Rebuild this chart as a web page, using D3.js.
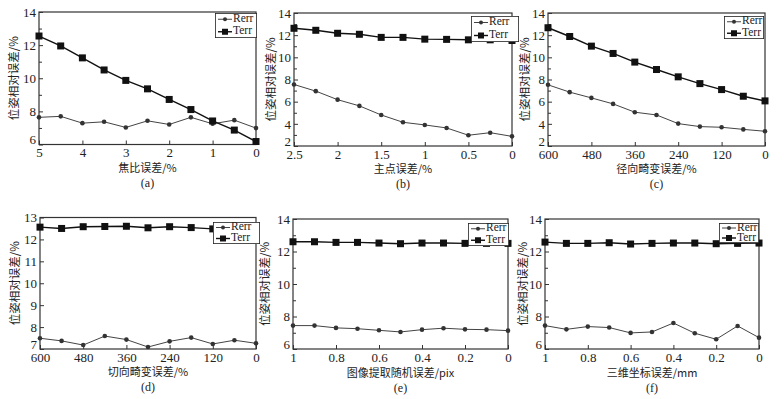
<!doctype html>
<html>
<head>
<meta charset="utf-8">
<script src="https://d3js.org/d3.v7.min.js"></script>
<style>
  body { margin: 0; background: #fff; }
  svg { display: block; }
  text { font-family: "Liberation Serif", "Times New Roman", serif; fill: #222; }
  .cjk { font-family: "Noto Sans CJK SC", sans-serif; }
</style>
</head>
<body>
<svg id="chart" width="784" height="399"></svg>
<script>
// ---- data ----
var xA = [5, 4.5, 4, 3.5, 3, 2.5, 2, 1.5, 1, 0.5, 0];
var rerrA = [7.64, 7.7, 7.29, 7.37, 7.03, 7.43, 7.21, 7.64, 7.25, 7.47, 6.99];
var terrA = [12.55, 11.95, 11.23, 10.5, 9.87, 9.36, 8.72, 8.11, 7.42, 6.87, 6.18];

var xB = [2.5, 2.25, 2, 1.75, 1.5, 1.25, 1, 0.75, 0.5, 0.25, 0];
var rerrB = [7.55, 6.95, 6.18, 5.62, 4.8, 4.14, 3.9, 3.63, 2.97, 3.2, 2.87];
var terrB = [12.62, 12.44, 12.17, 12.08, 11.8, 11.8, 11.64, 11.62, 11.58, 11.58, 11.52];

var xC = [600, 540, 480, 420, 360, 300, 240, 180, 120, 60, 0];
var rerrC = [7.52, 6.86, 6.34, 5.8, 5.05, 4.8, 4.02, 3.75, 3.69, 3.5, 3.33];
var terrC = [12.67, 11.88, 11.01, 10.35, 9.57, 8.9, 8.24, 7.63, 7.09, 6.49, 6.07];

var xD = [600, 540, 480, 420, 360, 300, 240, 180, 120, 60, 0];
var rerrD = [7.49, 7.37, 7.18, 7.59, 7.43, 7.09, 7.35, 7.52, 7.23, 7.4, 7.26];
var terrD = [12.56, 12.5, 12.58, 12.59, 12.6, 12.53, 12.58, 12.54, 12.48, 12.5, 12.54];

var xE = [1, 0.9, 0.8, 0.7, 0.6, 0.5, 0.4, 0.3, 0.2, 0.1, 0];
var rerrE = [7.44, 7.44, 7.3, 7.25, 7.15, 7.05, 7.19, 7.28, 7.21, 7.19, 7.13];
var terrE = [12.6, 12.6, 12.56, 12.56, 12.52, 12.48, 12.52, 12.52, 12.5, 12.5, 12.5];

var xF = [1, 0.9, 0.8, 0.7, 0.6, 0.5, 0.4, 0.3, 0.2, 0.1, 0];
var rerrF = [7.44, 7.21, 7.38, 7.32, 6.99, 7.05, 7.6, 6.97, 6.6, 7.42, 6.7];
var terrF = [12.58, 12.5, 12.5, 12.54, 12.46, 12.5, 12.52, 12.52, 12.48, 12.5, 12.52];

var xTicksA = [5, 4, 3, 2, 1, 0];
var xTicksB = [2.5, 2, 1.5, 1, 0.5, 0];
var xTicksC = [600, 480, 360, 240, 120, 0];
var xTicksE = [1, 0.8, 0.6, 0.4, 0.2, 0];

var xLabels = ["焦比误差/%", "主点误差/%", "径向畸变误差/%", "切向畸变误差/%", "图像提取随机误差/pix", "三维坐标误差/mm"];
var tags = ["(a)", "(b)", "(c)", "(d)", "(e)", "(f)"];
var yLabel = "位姿相对误差/%";
var seriesNames = ["Rerr", "Terr"];

// ---- panel layout ----
var panels = [
  { x: xA, r: rerrA, t: terrA, xd: [5, 0], xt: xTicksA, yd: [6, 14], yStep: 2,
    box: [39, 256, 12, 144.5], lab: 169, tag: 184, yl: 15, leg: [215, 13, 257, 38] },
  { x: xB, r: rerrB, t: terrB, xd: [2.5, 0], xt: xTicksB, yd: [2, 14], yStep: 2,
    box: [294, 512, 13, 146], lab: 170, tag: 185, yl: 272, leg: [471, 16, 519, 42] },
  { x: xC, r: rerrC, t: terrC, xd: [600, 0], xt: xTicksC, yd: [2, 14], yStep: 2,
    box: [548, 765, 13, 146], lab: 170, tag: 185, yl: 526, leg: [724, 16, 764, 39] },
  { x: xD, r: rerrD, t: terrD, xd: [600, 0], xt: xTicksC, yd: [7, 13], yStep: 1,
    box: [40, 256, 217.5, 349], lab: 373, tag: 388, yl: 16, leg: [213, 222, 260, 244] },
  { x: xE, r: rerrE, t: terrE, xd: [1, 0], xt: xTicksE, yd: [6, 14], yStep: 2,
    box: [293, 508, 219, 349], lab: 374, tag: 389, yl: 266, leg: [468, 223, 509, 246] },
  { x: xF, r: rerrF, t: terrF, xd: [1, 0], xt: xTicksE, yd: [6, 14], yStep: 2,
    box: [545, 759, 219, 349], lab: 374, tag: 389, yl: 524, leg: [719, 223, 759, 243] }
];

var svg = d3.select("#chart");

panels.forEach(function (p, i) {
  var x = d3.scaleLinear().domain(p.xd).range([p.box[0], p.box[1]]);
  var y = d3.scaleLinear().domain(p.yd).range([p.box[3], p.box[2]]);
  var g = svg.append("g");

  // frame
  g.append("rect")
    .attr("x", p.box[0]).attr("y", p.box[2])
    .attr("width", p.box[1] - p.box[0]).attr("height", p.box[3] - p.box[2])
    .attr("fill", "none").attr("stroke", "#333").attr("stroke-width", 1.2);

  // y axis, inward ticks plus minor ticks
  var yMajor = d3.range(p.yd[0], p.yd[1] + 0.001, p.yStep);
  g.append("g")
    .attr("transform", "translate(" + p.box[0] + ",0)")
    .call(d3.axisLeft(y).tickValues(yMajor).tickSize(-4).tickPadding(3).tickFormat(d3.format("d")))
    .call(a => a.select(".domain").remove())
    .call(a => a.selectAll("line").attr("stroke", "#333"))
    .call(a => a.selectAll("text").style("font-size", "13px").attr("fill", "#333")
      .style("font-family", "'Liberation Serif', serif"))
    // lift the lowest label so it clears the x tick labels
    .call(a => a.selectAll("text").filter(d => d == p.yd[0]).attr("y", -5));
  if (p.yStep == 2) {
    g.append("g")
      .attr("transform", "translate(" + p.box[0] + ",0)")
      .call(d3.axisLeft(y).tickValues(yMajor.slice(1).map(v => v - 1)).tickSize(-3).tickFormat(""))
      .call(a => a.select(".domain").remove())
      .call(a => a.selectAll("line").attr("stroke", "#333"));
  }

  // x axis
  g.append("g")
    .attr("transform", "translate(0," + p.box[3] + ")")
    .call(d3.axisBottom(x).tickValues(p.xt).tickSize(-4).tickPadding(3.5).tickFormat(d => String(d)))
    .call(a => a.select(".domain").remove())
    .call(a => a.selectAll("line").attr("stroke", "#333"))
    .call(a => a.selectAll("text").style("font-size", "13px").attr("fill", "#333")
      .style("font-family", "'Liberation Serif', serif"));

  // axis titles
  var cx = (p.box[0] + p.box[1]) / 2;
  g.append("text").attr("class", "cjk")
    .attr("x", cx).attr("y", p.lab).attr("text-anchor", "middle")
    .attr("dominant-baseline", "middle").style("font-size", "11px")
    .text(xLabels[i]);
  g.append("text")
    .attr("x", cx).attr("y", p.tag).attr("text-anchor", "middle")
    .attr("dominant-baseline", "middle").style("font-size", "12px")
    .text(tags[i]);
  var cy = (p.box[2] + p.box[3]) / 2;
  g.append("text").attr("class", "cjk")
    .attr("transform", "translate(" + p.yl + "," + cy + ") rotate(-90)")
    .attr("text-anchor", "middle").attr("dominant-baseline", "middle")
    .style("font-size", "11.5px")
    .text(yLabel);

  // series
  var line = d3.line().x((d, k) => x(p.x[k])).y(d => y(d));
  g.append("path").datum(p.r).attr("d", line)
    .attr("fill", "none").attr("stroke", "#444").attr("stroke-width", 1);
  g.append("path").datum(p.t).attr("d", line)
    .attr("fill", "none").attr("stroke", "#111").attr("stroke-width", 1.4);
  g.selectAll(".rdot").data(p.r).enter().append("circle")
    .attr("cx", (d, k) => x(p.x[k])).attr("cy", d => y(d)).attr("r", 2.3)
    .attr("fill", "#333");
  g.selectAll(".tsq").data(p.t).enter().append("rect")
    .attr("x", (d, k) => x(p.x[k]) - 3.5).attr("y", d => y(d) - 3.5)
    .attr("width", 7).attr("height", 7).attr("fill", "#111");

  // legend, text clipped at the box edge
  var L = p.leg;
  var clipId = "clip" + i;
  svg.append("clipPath").attr("id", clipId).append("rect")
    .attr("x", L[0]).attr("y", L[1]).attr("width", L[2] - L[0]).attr("height", L[3] - L[1]);
  var lg = g.append("g").attr("clip-path", "url(#" + clipId + ")");
  lg.append("rect").attr("x", L[0]).attr("y", L[1])
    .attr("width", L[2] - L[0]).attr("height", L[3] - L[1])
    .attr("fill", "#fff").attr("stroke", "#222").attr("stroke-width", 1.6);
  var rowH = (L[3] - L[1]) / 2;
  seriesNames.forEach(function (n, k) {
    var ry = L[1] + rowH * (k + 0.5);
    lg.append("line").attr("x1", L[0] + 3).attr("x2", L[0] + 17)
      .attr("y1", ry).attr("y2", ry).attr("stroke", k ? "#111" : "#444")
      .attr("stroke-width", k ? 1.4 : 1);
    if (k == 0) {
      lg.append("circle").attr("cx", L[0] + 10).attr("cy", ry).attr("r", 2).attr("fill", "#333");
    } else {
      lg.append("rect").attr("x", L[0] + 7).attr("y", ry - 3)
        .attr("width", 6).attr("height", 6).attr("fill", "#111");
    }
    lg.append("text").attr("x", L[0] + 18).attr("y", ry)
      .attr("dominant-baseline", "middle").style("font-size", "11.5px")
      .text(n);
  });
});
</script>
</body>
</html>
